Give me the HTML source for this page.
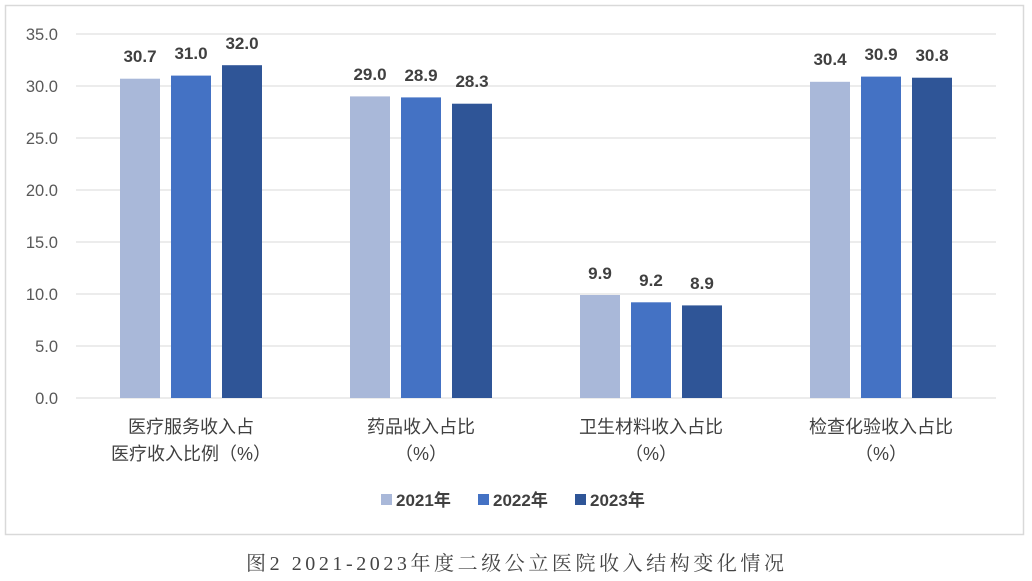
<!DOCTYPE html>
<html><head><meta charset="utf-8"><style>
html,body{margin:0;padding:0;background:#fff;}
svg text{font-family:"Liberation Sans","Noto Sans CJK SC",sans-serif;}
</style></head><body>
<svg width="1032" height="576" viewBox="0 0 1032 576" xmlns="http://www.w3.org/2000/svg">
<rect x="5.5" y="5.5" width="1018" height="529" fill="#fff" stroke="#d9d9d9" stroke-width="1.5"/>
<g stroke="#d9d9d9" stroke-width="1">
<line x1="76" x2="996" y1="34" y2="34"/><line x1="76" x2="996" y1="86" y2="86"/>
<line x1="76" x2="996" y1="138" y2="138"/><line x1="76" x2="996" y1="190" y2="190"/>
<line x1="76" x2="996" y1="242" y2="242"/><line x1="76" x2="996" y1="294" y2="294"/>
<line x1="76" x2="996" y1="346" y2="346"/><line x1="76" x2="996" y1="398" y2="398"/>
</g>
<g font-size="16.5" fill="#595959" text-anchor="end">
<text x="58" y="40">35.0</text><text x="58" y="92">30.0</text><text x="58" y="144">25.0</text>
<text x="58" y="196">20.0</text><text x="58" y="248">15.0</text><text x="58" y="300">10.0</text>
<text x="58" y="352">5.0</text><text x="58" y="404">0.0</text>
</g>
<g>
<rect x="120" y="78.7" width="40" height="319.3" fill="#a9b8d9"/>
<rect x="171" y="75.6" width="40" height="322.4" fill="#4472c4"/>
<rect x="222" y="65.2" width="40" height="332.8" fill="#2f5597"/>
<rect x="350" y="96.4" width="40" height="301.6" fill="#a9b8d9"/>
<rect x="401" y="97.4" width="40" height="300.6" fill="#4472c4"/>
<rect x="452" y="103.7" width="40" height="294.3" fill="#2f5597"/>
<rect x="580" y="295" width="40" height="103" fill="#a9b8d9"/>
<rect x="631" y="302.3" width="40" height="95.7" fill="#4472c4"/>
<rect x="682" y="305.4" width="40" height="92.6" fill="#2f5597"/>
<rect x="810" y="81.8" width="40" height="316.2" fill="#a9b8d9"/>
<rect x="861" y="76.6" width="40" height="321.4" fill="#4472c4"/>
<rect x="912" y="77.7" width="40" height="320.3" fill="#2f5597"/>
</g>
<g font-size="17" font-weight="bold" fill="#404040" text-anchor="middle">
<text x="140" y="62">30.7</text><text x="191" y="59">31.0</text><text x="242" y="49">32.0</text>
<text x="370" y="80">29.0</text><text x="421" y="81">28.9</text><text x="472" y="87">28.3</text>
<text x="600" y="279">9.9</text><text x="651" y="286">9.2</text><text x="702" y="289">8.9</text>
<text x="830" y="65">30.4</text><text x="881" y="60">30.9</text><text x="932" y="61">30.8</text>
</g>
<g font-size="18" fill="#404040" text-anchor="middle">
<text x="191" y="433">医疗服务收入占</text><text x="191" y="460">医疗收入比例（%）</text>
<text x="421" y="433">药品收入占比</text><text x="421" y="460">（%）</text>
<text x="651" y="433">卫生材料收入占比</text><text x="651" y="460">（%）</text>
<text x="881" y="433">检查化验收入占比</text><text x="881" y="460">（%）</text>
</g>
<g font-size="17" font-weight="bold" fill="#404040">
<rect x="381" y="494" width="11" height="11" fill="#a9b8d9"/><text x="396" y="506">2021年</text>
<rect x="478" y="494" width="11" height="11" fill="#4472c4"/><text x="493" y="506">2022年</text>
<rect x="575" y="494" width="11" height="11" fill="#2f5597"/><text x="590" y="506">2023年</text>
</g>
<text x="246" y="570" font-size="20" fill="#444" textLength="538" lengthAdjust="spacing" style="font-family:'Liberation Serif','Noto Serif CJK SC',serif">图2 2021-2023年度二级公立医院收入结构变化情况</text>
</svg>
</body></html>
